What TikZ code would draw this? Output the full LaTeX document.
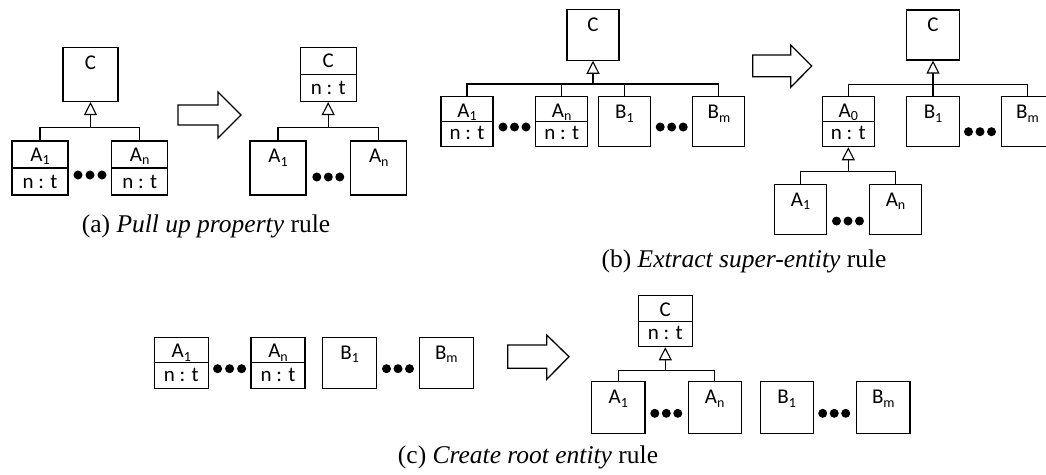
\documentclass[tikz,border=0pt]{standalone}
\usepackage{fontspec}
\setmainfont{Liberation Serif}
\newfontfamily\calfont{Carlito}
\usetikzlibrary{arrows.meta,calc}
\newcommand\sbs[1]{\raisebox{-3.5pt}{\fontsize{14}{14}\selectfont #1}}
\tikzset{
  ent/.style args={#1x#2}{draw, line width=1.1pt, inner sep=0pt, minimum width=#1, minimum height=#2},
  lab/.style={font=\calfont\fontsize{21}{21}\selectfont, inner sep=0pt, anchor=base},
  dotmark/.style={circle, fill, inner sep=0pt, minimum size=9},
  link/.style={line width=1.1pt},
  gen/.style={line width=1.1pt, -{Triangle[open, length=13, width=13]}},
  bigarrow/.style={line width=1.3pt, line join=miter},
  captxt/.style={font=\fontsize{25.5}{27}\selectfont, inner sep=0pt, anchor=base}
}
\newcommand\toplab[2]{\node[lab] (#1-l) at ($(#1.north)+(0,22.5)$) {#2};}
\newcommand\splitlab[2]{\draw[link] (#1.west) -- (#1.east);
  \node[lab] (#1-l) at ($(#1.north)+(0,21)$) {#2};
  \node[lab] (#1-p) at ($(#1.south)+(0,-7.5)$) {n : t};}
\newcommand\threedots[4]{%
  \node[dotmark] (#1a) at (#2-#4,#3) {};
  \node[dotmark] (#1b) at (#2,#3) {};
  \node[dotmark] (#1c) at (#2+#4,#3) {};}
\begin{document}
\begin{tikzpicture}[x=1pt,y=-1pt]
\useasboundingbox (0,0) rectangle (1046,474);

% ---------- (a) left
\node[ent=55x54] (Ca) at (90.5,74.5) {};
\toplab{Ca}{C}
\node[ent=56x54] (A1a) at (40,168) {};
\splitlab{A1a}{A\sbs{1}}
\node[ent=56x54] (Ana) at (139.7,168) {};
\splitlab{Ana}{A\sbs{n}}
\coordinate (ja) at (90.5,127.7);
\draw[link] (A1a.north) |- (ja) -| (Ana.north);
\draw[gen] (ja) -- (Ca.south);
\threedots{da}{90}{175}{12}

% big arrow (a)
\draw[bigarrow] (178,105) -- (218,105) -- (218,92) -- (241,115) -- (218,138) -- (218,125) -- (178,125) -- cycle;

% ---------- (a) right
\node[ent=56x54] (Ca2) at (328.2,74.5) {};
\splitlab{Ca2}{C}
\node[ent=56x54] (A1a2) at (278,168) {};
\toplab{A1a2}{A\sbs{1}}
\node[ent=56x54] (Ana2) at (378.8,168) {};
\toplab{Ana2}{A\sbs{n}}
\coordinate (ja2) at (328.2,127.5);
\draw[link] (A1a2.north) |- (ja2) -| (Ana2.north);
\draw[gen] (ja2) -- (Ca2.south);
\threedots{da2}{328.3}{177}{11.5}

\node[captxt] (capa) at (206,232) {(a) \textit{Pull up property} rule};

% ---------- (b) left
\node[ent=52x51] (Cb) at (593,34.7) {};
\toplab{Cb}{C}
\node[ent=52x50] (A1b) at (467,121.7) {};
\splitlab{A1b}{A\sbs{1}}
\node[ent=52x50] (Anb) at (561.7,121.7) {};
\splitlab{Anb}{A\sbs{n}}
\node[ent=52x50] (B1b) at (624.5,121.7) {};
\toplab{B1b}{B\sbs{1}}
\node[ent=52x50] (Bmb) at (718.9,121.7) {};
\toplab{Bmb}{B\sbs{m}}
\coordinate (jb) at (593,84);
\draw[link] (A1b.north) |- (jb) -| (Bmb.north);
\draw[link] (Anb.north) -- (Anb.north |- jb);
\draw[link] (B1b.north) -- (B1b.north |- jb);
\draw[gen] (jb) -- (Cb.south);
\threedots{db1}{514.5}{127}{11.5}
\threedots{db2}{671.7}{127}{11.5}

% big arrow (b)
\draw[bigarrow] (752.7,55) -- (790.7,55) -- (790.7,45) -- (811.7,66) -- (790.7,87.3) -- (790.7,76.7) -- (752.7,76.7) -- cycle;

% ---------- (b) right
\node[ent=52.6x50] (Cb2) at (933,35) {};
\toplab{Cb2}{C}
\node[ent=52x50] (A0) at (848.3,121.7) {};
\splitlab{A0}{A\sbs{0}}
\node[ent=52.6x50] (B1b2) at (933,121.7) {};
\toplab{B1b2}{B\sbs{1}}
\node[ent=52x50] (Bmb2) at (1027.5,121.7) {};
\toplab{Bmb2}{B\sbs{m}}
\coordinate (jb2) at (933,84.3);
\draw[link] (A0.north) |- (jb2) -| (Bmb2.north);
\draw[gen] (B1b2.north) -- (Cb2.south);
\threedots{db3}{980}{131.7}{11.5}
\node[ent=52.4x50] (A1b2) at (800.5,209.3) {};
\toplab{A1b2}{A\sbs{1}}
\node[ent=52.4x50] (Anb2) at (895.5,209.3) {};
\toplab{Anb2}{A\sbs{n}}
\coordinate (jb3) at (848.3,171.7);
\draw[link] (A1b2.north) |- (jb3) -| (Anb2.north);
\draw[gen] (jb3) -- (A0.south);
\threedots{db4}{848}{221}{11.5}

\node[captxt] (capb) at (744,267) {(b) \textit{Extract super-entity} rule};

% ---------- (c) left
\node[ent=54x51] (A1c) at (181.3,362.8) {};
\splitlab{A1c}{A\sbs{1}}
\node[ent=54x51] (Anc) at (278,362.8) {};
\splitlab{Anc}{A\sbs{n}}
\node[ent=54x51] (B1c) at (349.7,362.8) {};
\toplab{B1c}{B\sbs{1}}
\node[ent=54x51] (Bmc) at (446.3,362.8) {};
\toplab{Bmc}{B\sbs{m}}
\threedots{dc1}{229.6}{368.7}{12}
\threedots{dc2}{398}{368.7}{11.5}

% big arrow (c)
\draw[bigarrow] (507.7,345) -- (546.7,345) -- (546.7,335) -- (569,356.7) -- (546.7,379.3) -- (546.7,368.3) -- (507.7,368.3) -- cycle;

% ---------- (c) right
\node[ent=54x51] (Cc) at (665.3,321.2) {};
\splitlab{Cc}{C}
\node[ent=53.3x51.6] (A1c2) at (618.3,407.5) {};
\toplab{A1c2}{A\sbs{1}}
\node[ent=53.3x51.6] (Anc2) at (714.7,407.5) {};
\toplab{Anc2}{A\sbs{n}}
\node[ent=53.3x51.6] (B1c2) at (786.7,407.5) {};
\toplab{B1c2}{B\sbs{1}}
\node[ent=53.3x51.6] (Bmc2) at (883.3,407.5) {};
\toplab{Bmc2}{B\sbs{m}}
\coordinate (jc) at (665.3,370.7);
\draw[link] (A1c2.north) |- (jc) -| (Anc2.north);
\draw[gen] (jc) -- (Cc.south);
\threedots{dc3}{666.3}{413.3}{11.5}
\threedots{dc4}{834.2}{413.3}{11.5}

\node[captxt] (capc) at (528,463) {(c) \textit{Create root entity} rule};
\end{tikzpicture}
\end{document}
